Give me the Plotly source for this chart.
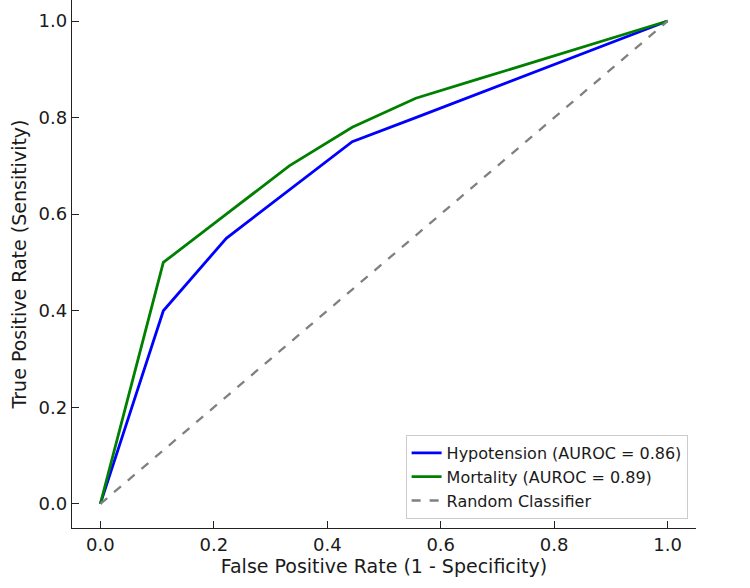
import plotly.graph_objects as go

fpr_hypo = [0.0, 0.111, 0.222, 0.333, 0.444, 0.556, 0.667, 0.778, 0.889, 1.0]
tpr_hypo = [0.0, 0.40, 0.55, 0.65, 0.75, 0.80, 0.85, 0.90, 0.95, 1.0]
fpr_mort = [0.0, 0.111, 0.222, 0.333, 0.444, 0.556, 0.667, 0.778, 0.889, 1.0]
tpr_mort = [0.0, 0.50, 0.60, 0.70, 0.78, 0.84, 0.88, 0.92, 0.96, 1.0]
rand_x = [0.0, 1.0]
rand_y = [0.0, 1.0]
ticks = [0.0, 0.2, 0.4, 0.6, 0.8, 1.0]
tick_text = ["0.0", "0.2", "0.4", "0.6", "0.8", "1.0"]

font = "DejaVu Sans"
txt = "#1a1a1a"
fig = go.Figure()
fig.add_trace(go.Scatter(x=fpr_hypo, y=tpr_hypo, mode="lines",
                         name="Hypotension (AUROC = 0.86)",
                         line=dict(color="#0000FF", width=2.8)))
fig.add_trace(go.Scatter(x=fpr_mort, y=tpr_mort, mode="lines",
                         name="Mortality (AUROC = 0.89)",
                         line=dict(color="#008000", width=2.8)))
fig.add_trace(go.Scatter(x=rand_x, y=rand_y, mode="lines",
                         name="Random Classifier",
                         line=dict(color="gray", width=2.3, dash="dash")))

W, H = 750, 588
l, r, t, b = 71.6, 53.6, 0, 60
fig.update_layout(
    width=W, height=H,
    margin=dict(l=l, r=r, t=t, b=b, autoexpand=False),
    paper_bgcolor="white", plot_bgcolor="white",
    font=dict(family=font, size=18, color=txt),
    showlegend=True,
    legend=dict(x=(688 - l) / (W - l - r), y=(528 - 519) / (H - t - b),
                xanchor="right", yanchor="bottom",
                bgcolor="white", bordercolor="#cccccc", borderwidth=1,
                font=dict(family=font, size=16, color=txt),
                tracegroupgap=0, itemwidth=30),
)
fig.update_xaxes(range=[-0.05, 1.05], tickvals=ticks, ticktext=tick_text,
                 showgrid=False, zeroline=False, showline=True,
                 linecolor="#222222", linewidth=1.4, mirror=False,
                 ticks="inside", ticklen=7, tickwidth=1.3, tickcolor="#222222",
                 tickfont=dict(size=18, family=font, color=txt),
                 title=dict(text="False Positive Rate (1 - Specificity)",
                            font=dict(size=19, family=font, color=txt),
                            standoff=4))
fig.update_yaxes(range=[-0.05, 1.0435], tickvals=ticks, ticktext=tick_text,
                 showgrid=False, zeroline=False, showline=True,
                 linecolor="#222222", linewidth=1.4, mirror=False,
                 ticks="inside", ticklen=7, tickwidth=1.3, tickcolor="#222222",
                 tickfont=dict(size=18, family=font, color=txt),
                 title=dict(text="True Positive Rate (Sensitivity)",
                            font=dict(size=19, family=font, color=txt),
                            standoff=6))
fig.write_html("out.html")
